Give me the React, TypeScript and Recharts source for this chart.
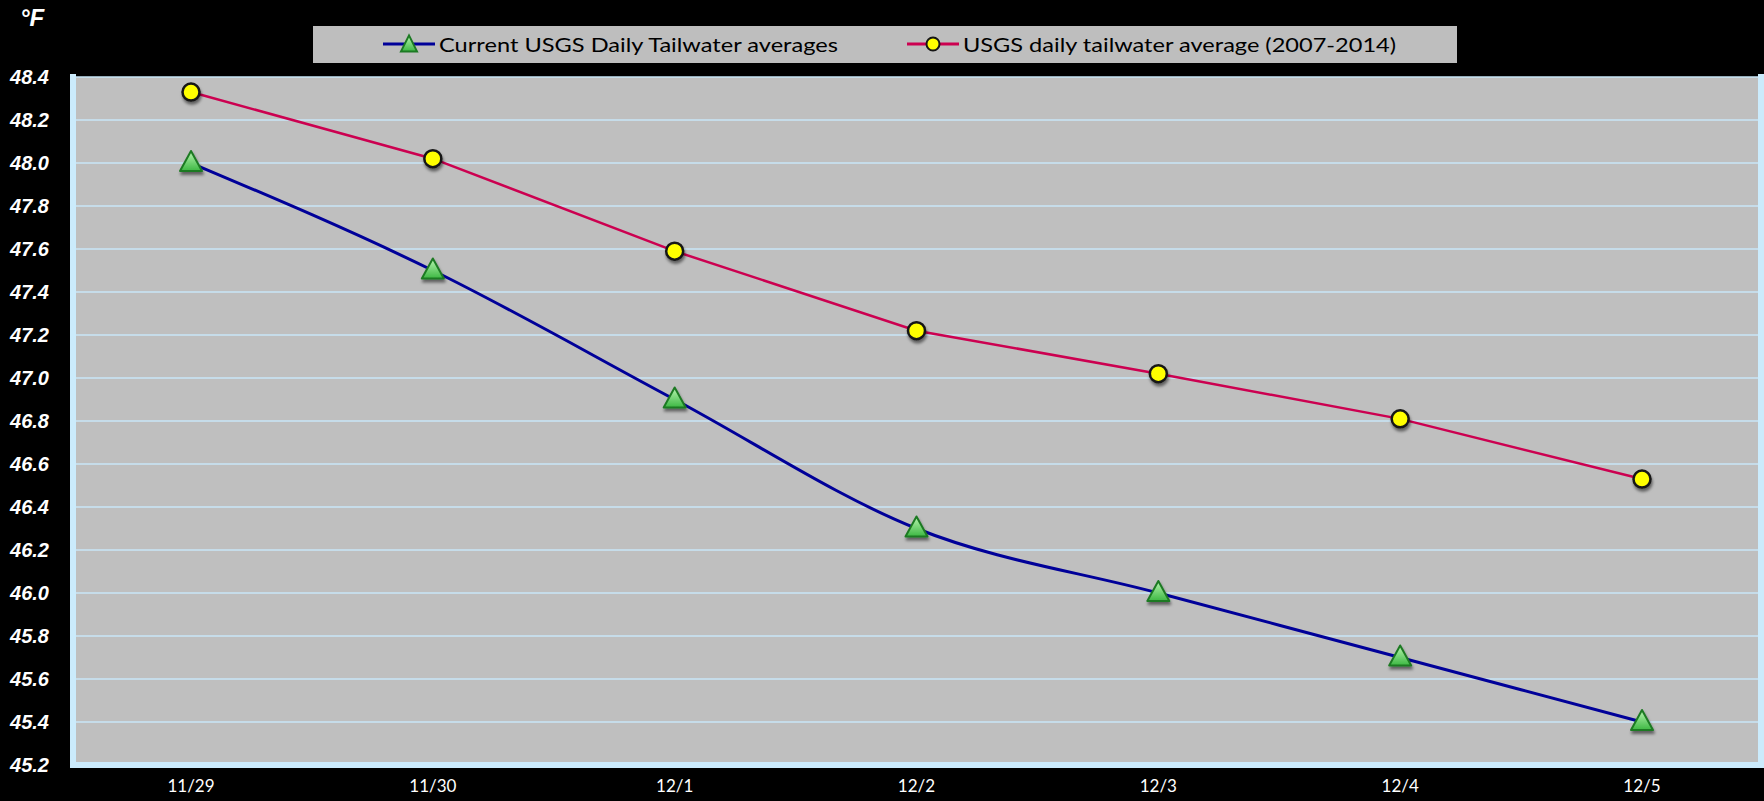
import React from "react";
import { LineChart, Line, XAxis, YAxis, CartesianGrid, Legend } from "recharts";

// daily tailwater temperatures, °F
const days = ["11/29", "11/30", "12/1", "12/2", "12/3", "12/4", "12/5"];
const currentAvg = [48.0, 47.5, 46.9, 46.3, 46.0, 45.7, 45.4];
const historicAvg = [48.33, 48.02, 47.59, 47.22, 47.02, 46.81, 46.53];
const yTicks = [45.2, 45.4, 45.6, 45.8, 46.0, 46.2, 46.4, 46.6, 46.8, 47.0, 47.2, 47.4, 47.6, 47.8, 48.0, 48.2, 48.4];
const seriesNames = ["Current USGS Daily Tailwater averages", "USGS daily tailwater average (2007-2014)"];

const data = days.map((day, i) => ({ day, current: currentAvg[i], historic: historicAvg[i] }));

const FRAME = "#CBEBFC";
const BLUE = "#000099";
const RED = "#CC0050";

const triPoints = (cx: number, cy: number, w: number, h: number) =>
  `${cx},${cy - h * 0.6} ${cx + w / 2},${cy + h * 0.4} ${cx - w / 2},${cy + h * 0.4}`;

const TriangleDot = (props: any) => {
  const { cx, cy, index } = props;
  if (cx == null || cy == null) return null;
  return (
    <polygon
      key={`tri-${index}`}
      points={triPoints(cx, cy, 22, 20)}
      fill="url(#triFill)"
      stroke="#1d7a24"
      strokeWidth={2}
      strokeLinejoin="round"
      filter="url(#markShadow)"
    />
  );
};

const CircleDot = (props: any) => {
  const { cx, cy, index } = props;
  if (cx == null || cy == null) return null;
  return (
    <circle
      key={`dot-${index}`}
      cx={cx}
      cy={cy}
      r={8.5}
      fill="#FFFF00"
      stroke="#151515"
      strokeWidth={2.5}
      filter="url(#markShadow)"
    />
  );
};

const LegendBox = () => (
  <div style={{ width: 1144, height: 37, background: "#BEBEBE" }}>
    <svg width={1144} height={37} style={{ display: "block" }}>
      <defs>
        <linearGradient id="triFillLeg" x1="0" y1="0" x2="0" y2="1">
          <stop offset="0%" stopColor="#B8F5B0" />
          <stop offset="100%" stopColor="#3DB843" />
        </linearGradient>
      </defs>
      <line x1={70} x2={122} y1={18} y2={18} stroke={BLUE} strokeWidth={3} />
      <polygon points={triPoints(96, 19, 16, 16)} fill="url(#triFillLeg)" stroke="#1d7a24" strokeWidth={2} />
      <text x={126} y={18} dominantBaseline="central" fontFamily="Lato" fontSize={20} fill="#000" textLength={399} lengthAdjust="spacingAndGlyphs">
        {seriesNames[0]}
      </text>
      <line x1={594} x2={646} y1={18} y2={18} stroke={RED} strokeWidth={3} />
      <circle cx={620} cy={18} r={6.5} fill="#FFFF00" stroke="#151515" strokeWidth={2} />
      <text x={650} y={18} dominantBaseline="central" fontFamily="Lato" fontSize={20} fill="#000" textLength={433} lengthAdjust="spacingAndGlyphs">
        {seriesNames[1]}
      </text>
    </svg>
  </div>
);

const frameLine = { stroke: FRAME, strokeWidth: 6, strokeLinecap: "square" as const };

export default function App() {
  return (
    <div style={{ position: "absolute", left: 0, top: 0, width: 1764, height: 801, background: "#000", overflow: "hidden" }}>
      <div
        style={{
          position: "absolute",
          left: 20,
          top: 4,
          color: "#fff",
          fontFamily: "Liberation Sans",
          fontWeight: "bold",
          fontStyle: "italic",
          fontSize: 24,
        }}
      >
        °F
      </div>
      <LineChart width={1764} height={801} data={data} margin={{ top: 77, right: 0, bottom: 0, left: 0 }}>
        <defs>
          <linearGradient id="triFill" x1="0" y1="0" x2="0" y2="1">
            <stop offset="0%" stopColor="#B8F5B0" />
            <stop offset="100%" stopColor="#3DB843" />
          </linearGradient>
          <filter id="markShadow" x="-60%" y="-60%" width="220%" height="220%">
            <feDropShadow dx="1" dy="3" stdDeviation="1.8" floodColor="#000" floodOpacity="0.5" />
          </filter>
        </defs>
        <CartesianGrid vertical={false} stroke="#C9E6F7" strokeWidth={1.5} fill="#BFBFBF" fillOpacity={1} />
        <XAxis
          dataKey="day"
          interval={0}
          padding={{ left: 118, right: 119 }}
          height={36}
          tickLine={false}
          tickSize={0}
          tickMargin={15}
          axisLine={frameLine}
          tick={{ fill: "#fff", fontSize: 17, fontFamily: "Lato" }}
        />
        <XAxis xAxisId="top" dataKey="day" orientation="top" height={0} tick={false} tickLine={false} axisLine={frameLine} padding={{ left: 118, right: 119 }} />
        <YAxis
          domain={[45.2, 48.4]}
          ticks={yTicks}
          width={73}
          tickLine={false}
          tickSize={0}
          tickMargin={24}
          axisLine={frameLine}
          tickFormatter={(v: number) => v.toFixed(1)}
          tick={{ fill: "#fff", fontSize: 20, fontWeight: "bold", fontStyle: "italic", fontFamily: "Liberation Sans" }}
        />
        <YAxis yAxisId="right" orientation="right" width={3} domain={[45.2, 48.4]} tick={false} tickLine={false} axisLine={frameLine} />
        <Legend
          content={<LegendBox />}
          layout="horizontal"
          verticalAlign="middle"
          align="center"
          wrapperStyle={{ top: 26, left: 313, width: 1144, height: 37 }}
        />
        <Line
          type="monotone"
          dataKey="current"
          name={seriesNames[0]}
          stroke={BLUE}
          strokeWidth={3}
          dot={TriangleDot}
          activeDot={false}
          isAnimationActive={false}
        />
        <Line
          type="linear"
          dataKey="historic"
          name={seriesNames[1]}
          stroke={RED}
          strokeWidth={2.5}
          dot={CircleDot}
          activeDot={false}
          isAnimationActive={false}
        />
      </LineChart>
    </div>
  );
}
